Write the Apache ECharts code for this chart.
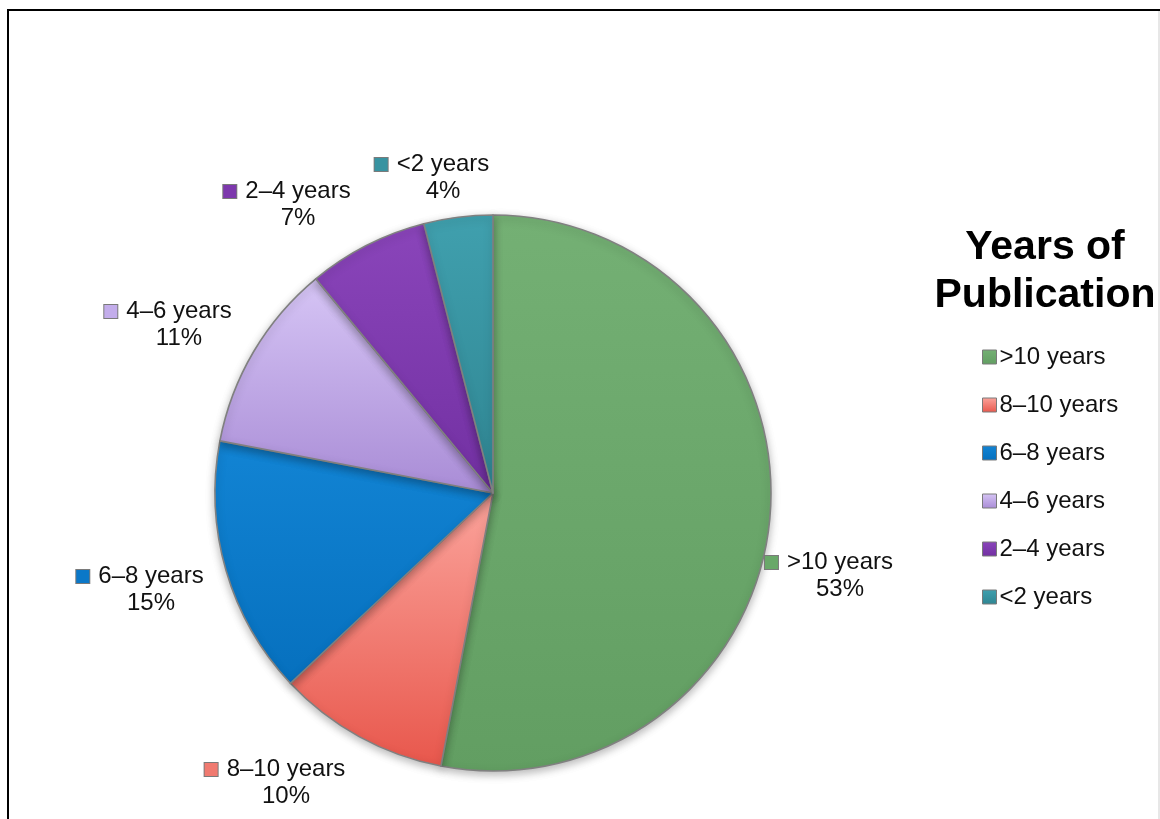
<!DOCTYPE html>
<html>
<head>
<meta charset="utf-8">
<style>
  html, body { margin: 0; padding: 0; background: #ffffff; }
  #chart { width: 1160px; height: 819px; }
</style>
<script src="https://cdn.jsdelivr.net/npm/echarts@6/dist/echarts.min.js"></script>
</head>
<body>
<div id="chart"></div>
<script>
// Share of publications by age bracket
const categories = ['>10 years', '8\u201310 years', '6\u20138 years', '4\u20136 years', '2\u20134 years', '<2 years'];
const shares = [53, 10, 15, 11, 7, 4];

// Slice fills: light top, darker bottom
const topColors    = ['#74b074', '#fba49c', '#1284d4', '#d6c5f5', '#8a45ba', '#40a0ae'];
const bottomColors = ['#629e62', '#e8574c', '#0670be', '#a98cd6', '#7230a2', '#2f8592'];
const swatchColors = ['#69a869', '#f07a70', '#0b78c8', '#c3adeb', '#7d38ad', '#3893a1'];

// Where each outside label block sits (centre x, centre y)
const labelSpots = [[829, 576], [275, 783], [140, 590], [168, 325], [287, 205], [432, 178]];

const FONT = '"Liberation Sans", Arial, Helvetica, sans-serif';

const chart = echarts.init(document.getElementById('chart'), null, { renderer: 'canvas' });

const pieData = categories.map((name, i) => ({
  name,
  value: shares[i],
  itemStyle: {
    color: new echarts.graphic.LinearGradient(0, 0, 0, 1, [
      { offset: 0, color: topColors[i] },
      { offset: 1, color: bottomColors[i] }
    ])
  },
  label: {
    rich: {
      sq: { width: 13, height: 13, backgroundColor: swatchColors[i], borderColor: '#7a7a7a', borderWidth: 1 },
      g: { width: 9 },
      sp: { width: 22 },
      t: { fontFamily: FONT, fontSize: 24, color: '#111111', lineHeight: 27 }
    }
  }
}));

chart.setOption({
  animation: false,
  backgroundColor: '#ffffff',
  color: swatchColors,
  title: {
    text: 'Years of\nPublication',
    left: 1040,
    top: 219,
    textAlign: 'center',
    textStyle: { fontFamily: FONT, fontSize: 41, fontWeight: 'bold', color: '#000000', lineHeight: 48 }
  },
  legend: {
    orient: 'vertical',
    left: 977,
    top: 340,
    icon: 'rect',
    itemWidth: 14,
    itemHeight: 14,
    itemGap: 24,
    itemStyle: { borderColor: '#7a7a7a', borderWidth: 1 },
    textStyle: { fontFamily: FONT, fontSize: 24, color: '#111111', lineHeight: 24, padding: [0, 0, 0, -2] },
    data: categories
  },
  graphic: [
    { type: 'line', shape: { x1: 7, y1: 10, x2: 1160, y2: 10 }, style: { stroke: '#000000', lineWidth: 2 } },
    { type: 'line', shape: { x1: 8, y1: 10, x2: 8, y2: 819 }, style: { stroke: '#000000', lineWidth: 2 } },
    { type: 'line', shape: { x1: 1159, y1: 11, x2: 1159, y2: 819 }, style: { stroke: '#cfcfcf', lineWidth: 1 } }
  ],
  series: [{
    type: 'pie',
    center: [493, 493],
    radius: [0, 278],
    startAngle: 90,
    clockwise: true,
    avoidLabelOverlap: false,
    data: pieData,
    itemStyle: {
      borderColor: '#808080',
      borderWidth: 1.6,
      shadowBlur: 8,
      shadowColor: 'rgba(0,0,0,0.28)',
      shadowOffsetY: 3
    },
    label: {
      show: true,
      position: 'outside',
      align: 'center',
      formatter: p => '{sq|}{g|}{t|' + p.name + '}\n{sp|}{t|' + p.value + '%}'
    },
    labelLine: { show: false },
    labelLayout: params => {
      const s = labelSpots[params.dataIndex];
      return { x: s[0], y: s[1], align: 'center', verticalAlign: 'middle' };
    },
    emphasis: { disabled: true }
  }]
});
</script>
</body>
</html>
